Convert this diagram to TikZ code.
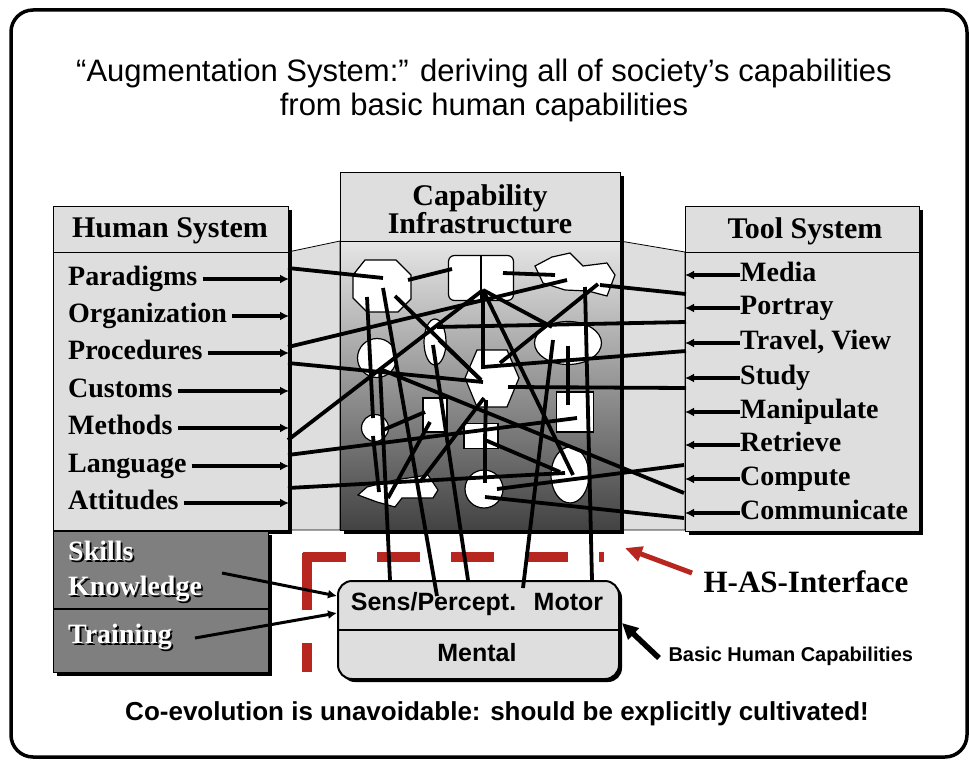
\documentclass[tikz,border=0pt]{standalone}
\usepackage{fontspec}
\setmainfont{Liberation Serif}
\setsansfont{Liberation Sans}
\usetikzlibrary{positioning,arrows.meta,shapes.geometric,shadows}

\definecolor{boxgray}{HTML}{DEDEDE}
\definecolor{darkbox}{HTML}{7F7F7F}
\definecolor{hasred}{HTML}{B8271F}

\tikzset{
  frame/.style={draw,line width=3.5pt,rounded corners=22pt},
  title/.style={align=center,font=\sffamily\fontsize{31}{34}\selectfont},
  panel/.style={draw,fill=boxgray,line width=0.8pt},
  sysbox/.style={draw,fill=boxgray,line width=1pt,anchor=north west,
    drop shadow={shadow xshift=3pt,shadow yshift=-3pt,fill=black,opacity=1}},
  head/.style={font=\bfseries\fontsize{30}{28}\selectfont,align=center},
  item/.style={font=\bfseries\fontsize{28}{28}\selectfont,inner sep=0pt,
    text height=18pt,text depth=5pt},
  feed/.style={line width=3.5pt,-{Latex[length=9pt,width=9pt]}},
  blob/.style={draw,fill=white,line width=1.2pt,inner sep=0pt},
  link/.style={line width=3.8pt},
  skilltxt/.style={font=\bfseries\fontsize{28}{28}\selectfont,anchor=west,inner sep=0pt},
  sanstxt/.style={font=\sffamily\bfseries\fontsize{25}{25}\selectfont},
  iface/.style={hasred,line width=10pt},
}

\newcommand{\shadowlabel}[3]{%
  \node[skilltxt,text=black] at ([shift={(1.8,1.8)}]#2) {#3};
  \node[skilltxt,text=white] (#1) at (#2) {#3};}

\begin{document}
\begin{tikzpicture}[x=1pt,y=-1pt]
\useasboundingbox (0,0) rectangle (969,760);
\draw[frame] (11,10) rectangle (967,757);

\node[title] (ttl) at (484,90) {“Augmentation System:” deriving all of society’s capabilities\\from basic human capabilities};

% panels between the boxes
\filldraw[panel] (288,252) -- (340,241) -- (340,530) -- (288,530) -- cycle;
\filldraw[panel] (620,241) -- (685,252) -- (685,530) -- (620,530) -- cycle;

% human system
\node[sysbox,minimum width=235pt,minimum height=46pt] (hshead) at (53,206) {};
\node[sysbox,minimum width=235pt,minimum height=278pt] (hsbody) at (53,252) {};
\node[head] (hstitle) at (170,231) {Human System};

% skills box
\node[sysbox,fill=darkbox,minimum width=215pt,minimum height=141pt] (skbox) at (53,531) {};
\draw[line width=1.5pt] (53,609) -- (268,609);
\shadowlabel{skl}{68,551}{Skills}
\shadowlabel{knw}{68,589}{Knowledge}
\shadowlabel{trn}{68,637}{Training}

% capability infrastructure
\node[sysbox,minimum width=280pt,minimum height=69pt] (cihead) at (340,172) {};
\node[sysbox,top color=black!10,bottom color=black!74,minimum width=280pt,minimum height=289pt] (cibody) at (340,241) {};
\node[head] (cititle) at (480,209) {Capability\\Infrastructure};

% tool system
\node[sysbox,minimum width=234pt,minimum height=46pt] (tshead) at (685,206) {};
\node[sysbox,minimum width=234pt,minimum height=279pt] (tsbody) at (685,252) {};
\node[head] (tstitle) at (805,231) {Tool System};

% human system items
\node[item,anchor=west] (par) at (68,279) {Paradigms};
\node[item,anchor=west] (org) at (68,316) {Organization};
\node[item,anchor=west] (pro) at (68,353) {Procedures};
\node[item,anchor=west] (cus) at (68,391) {Customs};
\node[item,anchor=west] (met) at (68,428) {Methods};
\node[item,anchor=west] (lan) at (68,466) {Language};
\node[item,anchor=west] (att) at (68,503) {Attitudes};
\foreach \n in {par,org,pro,cus,met,lan,att}
  \draw[feed] ([xshift=5pt]\n.east) -- (\n.east -| hsbody.east);

% tool system items
\node[item,anchor=west] (med) at (740,275) {Media};
\node[item,anchor=west] (por) at (740,308) {Portray};
\node[item,anchor=west] (trv) at (740,343) {Travel, View};
\node[item,anchor=west] (stu) at (740,378) {Study};
\node[item,anchor=west] (man) at (740,412) {Manipulate};
\node[item,anchor=west] (ret) at (740,445) {Retrieve};
\node[item,anchor=west] (cmp) at (740,479) {Compute};
\node[item,anchor=west] (cmm) at (740,513) {Communicate};
\foreach \n in {med,por,trv,stu,man,ret,cmp,cmm}
  \draw[feed] (\n.west) -- (\n.west -| tsbody.west);

% shapes of the infrastructure
\filldraw[blob] (365,260) -- (396,260) -- (411,275) -- (411,299) -- (398,312) -- (367,312) -- (353,298) -- (353,275) -- cycle;
\node[blob,rectangle,rounded corners=6pt,minimum width=65pt,minimum height=45pt] (book) at (481,278) {};
\draw[line width=1.2pt] (book.north) -- (book.south);
\filldraw[blob] (535,266) -- (552,257) -- (570,253) -- (583,266) -- (607,263) -- (615,275) -- (607,296) -- (588,291) -- (565,290) -- (543,283) -- cycle;
\node[blob,circle,minimum size=39pt] (cl) at (377,358) {};
\node[blob,ellipse,minimum width=22pt,minimum height=46pt] (ve) at (435,342) {};
\node[blob,ellipse,minimum width=67pt,minimum height=43pt] (we) at (568,343) {};
\filldraw[blob] (465,378) -- (477,350) -- (507,350) -- (519,378) -- (507,407) -- (477,407) -- cycle;
\node[blob,circle,minimum size=27pt] (sc) at (375,428) {};
\node[blob,rectangle,minimum width=24pt,minimum height=34pt] (sr) at (435,415) {};
\node[blob,rectangle,minimum width=37pt,minimum height=40pt] (sq) at (575,412) {};
\node[blob,rectangle,minimum width=34pt,minimum height=25pt] (cr) at (481,436) {};
\node[blob,circle,minimum size=38pt] (lc) at (484,489) {};
\node[blob,ellipse,minimum width=38pt,minimum height=56pt] (le) at (570,475) {};
\filldraw[blob] (358,495) -- (367,487) -- (395,480) -- (428,475) -- (438,490) -- (433,498) -- (402,498) -- (395,507) -- (377,502) -- cycle;

% basic human capabilities
\node[sysbox,rounded corners=14pt,line width=2pt,minimum width=281pt,minimum height=98pt] (bhc) at (337,580) {};
\draw[line width=1.2pt] (337,630) -- (618,630);
\node[sanstxt] (sens) at (477,604) {Sens/Percept.\hspace{0.7em}Motor};
\node[sanstxt] (ment) at (477,653) {Mental};

% interface
\draw[iface,dash pattern=on 43pt off 31pt] (303,557) -- (604,557);
\draw[iface,dash pattern=on 57pt off 33pt] (307,553) -- (307,672);

% ports
\coordinate (hA) at (288,268); \coordinate (hB) at (288,347); \coordinate (hC) at (288,363);
\coordinate (hD) at (288,440); \coordinate (hE) at (288,455); \coordinate (hF) at (288,488);
\coordinate (tA) at (686,294); \coordinate (tB) at (686,322); \coordinate (tC) at (686,351);
\coordinate (tD) at (686,388); \coordinate (tE) at (684,493); \coordinate (tF) at (684,465);
\coordinate (tG) at (684,518);
\coordinate (bA) at (390,580); \coordinate (bB) at (437,596); \coordinate (bC) at (468,580);
\coordinate (bD) at (523,588); \coordinate (bE) at (592,580);
\coordinate (o1) at (383,278); \coordinate (o2) at (408,280); \coordinate (o3) at (367,297);
\coordinate (o4) at (383,288); \coordinate (o5) at (395,296);
\coordinate (k0) at (483,290); \coordinate (k1) at (452,269); \coordinate (k2) at (503,273);
\coordinate (s1) at (555,275); \coordinate (s2) at (567,280); \coordinate (s3) at (600,285);
\coordinate (s4) at (598,284); \coordinate (s5) at (585,287);
\coordinate (c1) at (380,369);
\coordinate (v1) at (437,327); \coordinate (v2) at (433,345); \coordinate (v3) at (439,340);
\coordinate (w1) at (552,327); \coordinate (w2) at (553,340); \coordinate (w3) at (568,346);
\coordinate (x0) at (483,367); \coordinate (x1) at (483,382); \coordinate (x2) at (508,387);
\coordinate (x3) at (500,363); \coordinate (x4) at (481,380); \coordinate (x5) at (486,400);
\coordinate (x6) at (484,398);
\coordinate (q1) at (373,418); \coordinate (q2) at (383,430); \coordinate (q3) at (373,436);
\coordinate (r1) at (425,412); \coordinate (r2) at (430,422);
\coordinate (u1) at (577,418); \coordinate (u2) at (568,405);
\coordinate (m1) at (485,440);
\coordinate (l1) at (485,483); \coordinate (l2) at (497,489); \coordinate (l3) at (485,497);
\coordinate (e1) at (565,473); \coordinate (e2) at (573,475); \coordinate (e3) at (560,472);
\coordinate (p1) at (379,492); \coordinate (p2) at (420,482); \coordinate (p3) at (388,498);

% links
\draw[link] (hA) -- (o1);
\draw[link] (hB) -- (s2);
\draw[link] (hC) -- (x1);
\draw[link] (hD) -- (k0);
\draw[link] (hE) -- (u1);
\draw[link] (hF) -- (e1);
\draw[link] (s3) -- (tA);
\draw[link] (v1) -- (tB);
\draw[link] (k0) -- (x0) -- (tC);
\draw[link] (x2) -- (tD);
\draw[link] (c1) -- (tE);
\draw[link] (l2) -- (tF);
\draw[link] (l3) -- (tG);
\draw[link] (o2) -- (k1);
\draw[link] (k2) -- (s1);
\draw[link] (k0) -- (w1);
\draw[link] (k0) -- (e2);
\draw[link] (s4) -- (x3);
\draw[link] (o5) -- (x4);
\draw[link] (v3) -- (x4);
\draw[link] (x5) -- (m1);
\draw[link] (x6) -- (p2);
\draw[link] (o3) -- (q1);
\draw[link] (q2) -- (r1);
\draw[link] (q3) -- (p1);
\draw[link] (r2) -- (p3);
\draw[link] (w3) -- (u2);
\draw[link] (m1) -- (l1);
\draw[link] (m1) -- (e3);
\draw[link] (c1) -- (bA);
\draw[link] (o4) -- (bB);
\draw[link] (v2) -- (bC);
\draw[link] (w2) -- (bD);
\draw[link] (s5) -- (bE);

% skills arrows
\coordinate (kn) at (222,573); \coordinate (tr) at (195,638);
\draw[feed,line width=3pt] (kn) -- (bhc.west |- 0,596);
\draw[feed,line width=3pt] (tr) -- (bhc.west |- 0,613);

% labels right
\node[font=\bfseries\fontsize{31}{31}\selectfont] (has) at (806,582) {H-AS-Interface};
\coordinate (hastip) at (625,548);
\draw[hasred,line width=5pt,-{Triangle[length=17pt,width=15pt]}] ([xshift=-8pt,yshift=9pt]has.west) -- (hastip);
\node[font=\sffamily\bfseries\fontsize{20}{20}\selectfont,anchor=west] (bhl) at (665,656) {Basic Human Capabilities};
\draw[line width=5.5pt,-{Triangle[length=16pt,width=15pt]}] ([xshift=-6pt,yshift=-2pt]bhl.west) -- ([xshift=2pt,yshift=7pt]bhc.east);

\node[font=\sffamily\bfseries\fontsize{26}{26}\selectfont] (coev) at (497,714) {Co-evolution is unavoidable: should be explicitly cultivated!};
\end{tikzpicture}
\end{document}
